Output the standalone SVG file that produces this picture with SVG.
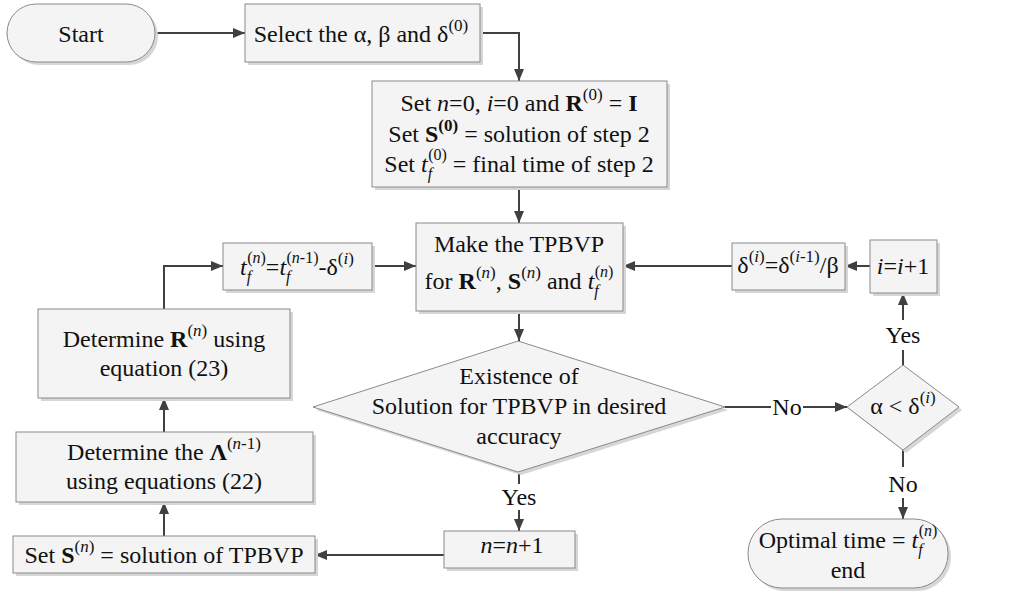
<svg xmlns="http://www.w3.org/2000/svg" width="1019" height="593" viewBox="0 0 1019 593" font-family="'Liberation Serif', 'DejaVu Serif', serif">
<defs>
<style>
.sh{fill:#d6d6d6}
.bx{fill:#f4f4f4;stroke:#8a8a8a;stroke-width:1}
.c{fill:none;stroke:#404040;stroke-width:2}
.ca{fill:none;stroke:#404040;stroke-width:2;marker-end:url(#ah)}
text{font-family:'Liberation Serif', 'DejaVu Serif', serif;font-size:24px;fill:#111;text-anchor:middle}
.it{font-style:italic}
.b{font-weight:bold}
.s{font-size:17px}
.ss{font-size:16px}
</style>
<marker id="ah" markerUnits="userSpaceOnUse" markerWidth="12" markerHeight="10" refX="12" refY="5" orient="auto">
<path d="M0,0 L12,5 L0,10 z" fill="#404040"/>
</marker>
</defs>
<rect width="1019" height="593" fill="#fff"/>

<g id="connectors">
<path class="ca" d="M155,33 H245"/>
<path class="ca" d="M480,33 H519 V81"/>
<path class="ca" d="M519,187 V223"/>
<path class="ca" d="M519,311 V341"/>
<path class="c" d="M519,472 V484"/>
<path class="ca" d="M519,510 V531"/>
<text x="519" y="505">Yes</text>
<path class="ca" d="M444,555 H315"/>
<path class="ca" d="M164,536 V502"/>
<path class="ca" d="M164,432 V398"/>
<path class="ca" d="M164,309 V266 H223"/>
<path class="ca" d="M372,266 H416"/>
<path class="ca" d="M732,266 H623"/>
<path class="ca" d="M870,266 H845"/>
<path class="c" d="M725,407 H771"/>
<text x="787" y="415">No</text>
<path class="ca" d="M803,407 H847"/>
<path class="c" d="M903,365 V350"/>
<text x="903" y="343">Yes</text>
<path class="ca" d="M903,320 V293"/>
<path class="c" d="M903,450 V467"/>
<text x="903" y="492">No</text>
<path class="ca" d="M903,498 V519"/>
</g>

<g id="start">
<rect class="sh" x="10" y="7" width="148" height="58" rx="29"/>
<rect class="bx" x="7" y="4" width="148" height="58" rx="29"/>
<text x="81" y="42">Start</text>
</g>

<g id="select">
<rect class="sh" x="248" y="7" width="235" height="58"/>
<rect class="bx" x="245" y="4" width="235" height="58"/>
<text x="361" y="42">Select the α, β and δ<tspan class="s" dy="-11">(0)</tspan></text>
</g>

<g id="init">
<rect class="sh" x="375" y="84" width="295" height="106"/>
<rect class="bx" x="372" y="81" width="295" height="106"/>
<text x="519" y="111">Set <tspan class="it">n</tspan>=0, <tspan class="it">i</tspan>=0 and <tspan class="b">R</tspan><tspan class="s" dy="-11">(0)</tspan><tspan dy="11"> = </tspan><tspan class="b">I</tspan></text>
<text x="519" y="142">Set <tspan class="b">S</tspan><tspan class="s b" dy="-11">(0)</tspan><tspan dy="11"> = solution of step 2</tspan></text>
<text x="519" y="172">Set <tspan class="it">t</tspan><tspan class="ss it" dy="7">f</tspan><tspan class="ss" dx="-4" dy="-19">(0)</tspan><tspan dy="12"> = final time of step 2</tspan></text>
</g>

<g id="make">
<rect class="sh" x="419" y="226" width="207" height="88"/>
<rect class="bx" x="416" y="223" width="207" height="88"/>
<text x="519" y="252">Make the TPBVP</text>
<text x="519" y="289">for <tspan class="b">R</tspan><tspan class="s" dy="-11">(<tspan class="it">n</tspan>)</tspan><tspan dy="11">, </tspan><tspan class="b">S</tspan><tspan class="s" dy="-11">(<tspan class="it">n</tspan>)</tspan><tspan dy="11"> and </tspan><tspan class="it">t</tspan><tspan class="ss it" dy="7">f</tspan><tspan class="ss" dx="-4" dy="-19">(<tspan class="it">n</tspan>)</tspan></text>
</g>

<g id="tf">
<rect class="sh" x="226" y="246" width="149" height="47"/>
<rect class="bx" x="223" y="243" width="149" height="47"/>
<text x="297" y="275"><tspan class="it">t</tspan><tspan class="ss it" dy="7">f</tspan><tspan class="ss" dx="-4" dy="-19">(<tspan class="it">n</tspan>)</tspan><tspan dy="12">=</tspan><tspan class="it">t</tspan><tspan class="ss it" dy="7">f</tspan><tspan class="ss" dx="-4" dy="-19">(<tspan class="it">n</tspan>-1)</tspan><tspan dy="12">-δ</tspan><tspan class="s" dy="-11">(<tspan class="it">i</tspan>)</tspan></text>
</g>

<g id="delta">
<rect class="sh" x="735" y="246" width="113" height="47"/>
<rect class="bx" x="732" y="243" width="113" height="47"/>
<text x="788" y="273">δ<tspan class="s" dy="-11">(<tspan class="it">i</tspan>)</tspan><tspan dy="11">=δ</tspan><tspan class="s" dy="-11">(<tspan class="it">i</tspan>-1)</tspan><tspan dy="11">/β</tspan></text>
</g>

<g id="inc-i">
<rect class="sh" x="873" y="243" width="67" height="53"/>
<rect class="bx" x="870" y="240" width="67" height="53"/>
<text x="903" y="274"><tspan class="it">i</tspan>=<tspan class="it">i</tspan>+1</text>
</g>

<g id="exist">
<polygon class="sh" points="316,410 521,344 728,410 521,475"/>
<polygon class="bx" points="313,407 518,341 725,407 518,472"/>
<text x="519" y="384">Existence of</text>
<text x="519" y="414">Solution for TPBVP in desired</text>
<text x="519" y="444">accuracy</text>
</g>

<g id="alpha">
<polygon class="sh" points="850,410 906,368 962,410 906,453"/>
<polygon class="bx" points="847,407 903,365 959,407 903,450"/>
<text x="903" y="414">α &lt; δ<tspan class="s" dy="-11">(<tspan class="it">i</tspan>)</tspan></text>
</g>

<g id="detR">
<rect class="sh" x="41" y="312" width="252" height="89"/>
<rect class="bx" x="38" y="309" width="252" height="89"/>
<text x="164" y="347">Determine <tspan class="b">R</tspan><tspan class="s" dy="-11">(<tspan class="it">n</tspan>)</tspan><tspan dy="11"> using</tspan></text>
<text x="164" y="376">equation (23)</text>
</g>

<g id="detL">
<rect class="sh" x="19" y="435" width="297" height="70"/>
<rect class="bx" x="16" y="432" width="297" height="70"/>
<text x="164" y="460">Determine the <tspan class="b">Λ</tspan><tspan class="s" dy="-11">(<tspan class="it">n</tspan>-1)</tspan></text>
<text x="164" y="489">using equations (22)</text>
</g>

<g id="setS">
<rect class="sh" x="16" y="539" width="302" height="37"/>
<rect class="bx" x="13" y="536" width="302" height="37"/>
<text x="164" y="563">Set <tspan class="b">S</tspan><tspan class="s" dy="-11">(<tspan class="it">n</tspan>)</tspan><tspan dy="11"> = solution of TPBVP</tspan></text>
</g>

<g id="inc-n">
<rect class="sh" x="447" y="534" width="131" height="37"/>
<rect class="bx" x="444" y="531" width="131" height="37"/>
<text x="512" y="553"><tspan class="it">n</tspan>=<tspan class="it">n</tspan>+1</text>
</g>

<g id="end">
<rect class="sh" x="751" y="522" width="200" height="69" rx="34"/>
<rect class="bx" x="748" y="519" width="200" height="69" rx="34"/>
<text x="848" y="548">Optimal time = <tspan class="it">t</tspan><tspan class="ss it" dy="7">f</tspan><tspan class="ss" dx="-4" dy="-19">(<tspan class="it">n</tspan>)</tspan></text>
<text x="848" y="578">end</text>
</g>
</svg>
